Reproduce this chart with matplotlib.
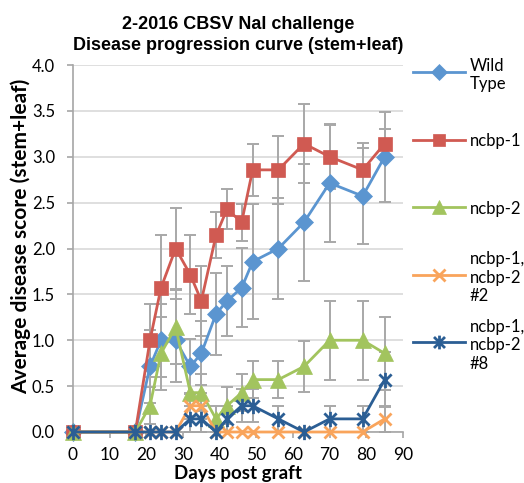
import matplotlib
matplotlib.use("Agg")
import matplotlib.pyplot as plt
from matplotlib.lines import Line2D
from matplotlib.path import Path

# days post graft
days = [0, 17, 21, 24, 28, 32, 35, 39, 42, 46, 49, 56, 63, 70, 79, 85]

wild_type = [0, 0, 0.714, 1.0, 1.0, 0.714, 0.857, 1.286, 1.429, 1.571, 1.857, 2.0, 2.286, 2.714, 2.571, 3.0]
wild_type_err = [0, 0, 0.4, 0.4, 0.45, 0.3, 0.35, 0.45, 0.38, 0.43, 0.63, 0.55, 0.64, 0.64, 0.52, 0.49]

ncbp1 = [0, 0, 1.0, 1.571, 2.0, 1.714, 1.429, 2.143, 2.429, 2.286, 2.857, 2.857, 3.143, 3.0, 2.857, 3.143]
ncbp1_err = [0, 0, 0.4, 0.58, 0.44, 0.43, 0.38, 0.25, 0.22, 0.2, 0.28, 0.37, 0.43, 0.35, 0.29, 0.16]

ncbp2 = [0, 0, 0.286, 0.857, 1.143, 0.429, 0.429, 0.143, 0.286, 0.429, 0.571, 0.571, 0.714, 1.0, 1.0, 0.857]
ncbp2_err = [0, 0, 0.2, 0.4, 0.4, 0.25, 0.2, 0.14, 0.2, 0.2, 0.2, 0.2, 0.28, 0.43, 0.43, 0.4]

double2 = [0, 0, 0, 0, 0, 0.286, 0.286, 0, 0, 0, 0, 0, 0, 0, 0, 0.143]
double2_err = [0, 0, 0, 0, 0, 0.14, 0.14, 0, 0, 0, 0, 0, 0, 0, 0, 0.14]

double8 = [0, 0, 0, 0, 0, 0.143, 0.143, 0, 0.143, 0.286, 0.286, 0.143, 0, 0.143, 0.143, 0.571]
double8_err = [0, 0, 0, 0, 0, 0.14, 0.14, 0, 0.14, 0.18, 0.18, 0.14, 0, 0.14, 0.14, 0.3]

labels = ["Wild\nType", "ncbp-1", "ncbp-2", "ncbp-1,\nncbp-2\n#2", "ncbp-1,\nncbp-2\n#8"]
x_ticks = list(range(0, 100, 10))
y_ticks = [0, 0.5, 1.0, 1.5, 2.0, 2.5, 3.0, 3.5, 4.0]

# Excel-like asterisk: an X with a vertical bar through it
star = Path([(-1, -1), (1, 1), (-1, 1), (1, -1), (0, -1.25), (0, 1.25)],
            [Path.MOVETO, Path.LINETO, Path.MOVETO, Path.LINETO, Path.MOVETO, Path.LINETO])

styles = [
    dict(color="#5B95D0", marker="D", ms=9),
    dict(color="#D05A52", marker="s", ms=9.5),
    dict(color="#A2C45E", marker="^", ms=11),
    dict(color="#F9A45B", marker="x", ms=9, mew=2),
    dict(color="#2B5E94", marker=star, ms=11, mew=2),
]
series = [(wild_type, wild_type_err), (ncbp1, ncbp1_err), (ncbp2, ncbp2_err),
          (double2, double2_err), (double8, double8_err)]

plt.rcParams["font.family"] = ["Lato", "DejaVu Sans"]

fig = plt.figure(figsize=(5.24, 4.83), dpi=100)
ax = fig.add_axes([73 / 524, 1 - 432 / 483, 330 / 524, 367 / 483])

for (vals, errs) in series:
    ax.errorbar(days, vals, yerr=errs, fmt="none", ecolor="#A8A8A8",
                elinewidth=1.4, capsize=4.5, capthick=1.4, zorder=2)
for i, ((vals, errs), st) in enumerate(zip(series, styles)):
    ax.plot(days, vals, color=st["color"], lw=2, marker=st["marker"],
            ms=st["ms"], mew=st.get("mew", 0.5), mec=st["color"],
            zorder=3 + i, clip_on=False)

ax.set_xlim(0, 90)
ax.set_ylim(0, 4.0)
ax.set_xticks(x_ticks)
ax.set_yticks(y_ticks)
ax.set_yticklabels([f"{v:.1f}" for v in y_ticks])
ax.yaxis.grid(True, color="#D9D9D9", lw=1.2)
ax.set_axisbelow(True)
for s in ["top", "right"]:
    ax.spines[s].set_visible(False)
for s in ["left", "bottom"]:
    ax.spines[s].set_color("#A6A6A6")
    ax.spines[s].set_linewidth(1.2)
ax.tick_params(axis="both", colors="#A6A6A6", labelcolor="black",
               labelsize=12, length=4, width=1.2)
ax.tick_params(axis="x", labelsize=12.5, pad=7)
ax.tick_params(axis="y", pad=9)

fig.text(238 / 524, 1 - 35 / 483, "2-2016 CBSV Nal challenge\nDisease progression curve (stem+leaf)",
         ha="center", va="center", fontsize=13, fontweight="bold",
         family="Liberation Sans", linespacing=1.3)
fig.text(238 / 524, 1 - 474 / 483, "Days post graft", ha="center", va="center",
         fontsize=13.5, fontweight="bold")
fig.text(21 / 524, 1 - 236 / 483, "Average disease score (stem+leaf)", ha="center",
         va="center", rotation=90, fontsize=15, fontweight="bold")

# legend to the right of the plot, entries spread down the height like Excel
for i, (lab, st) in enumerate(zip(labels, styles)):
    y = 1 - (72 + i * 67.6) / 483
    fig.add_artist(Line2D([413 / 524, 439 / 524, 465 / 524], [y, y, y],
                          color=st["color"], lw=2, marker=st["marker"],
                          ms=st["ms"] * 0.9, mew=st.get("mew", 0.5),
                          mec=st["color"], markevery=[1]))
    fig.text(470 / 524, y, lab, ha="left", va="center_baseline", fontsize=12,
             linespacing=1.2)

fig.savefig("out.png", dpi=100)
